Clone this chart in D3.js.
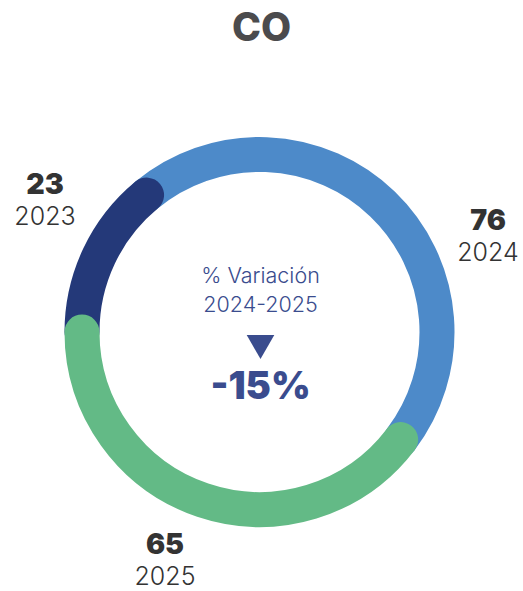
<!DOCTYPE html>
<html>
<head>
<meta charset="utf-8">
<script src="https://cdn.jsdelivr.net/npm/d3@7"></script>
<style>
  html, body { margin: 0; padding: 0; background: #fff; }
  svg { display: block; }
</style>
</head>
<body>
<svg id="chart" width="523" height="591"></svg>
<script>
// Data
const title = "CO";
const years = ["2023", "2024", "2025"];
const values = [23, 76, 65];
const colors = ["#243979", "#4d8ac9", "#63ba86"];
const variationLabel = ["% Variación", "2024-2025"];
const variationText = "-15%";

// Layout
const width = 523, height = 591;
const cx = 259.5, cy = 332;
const ringRadius = 177.5;   // centreline of the ring
const ringWidth = 35;
// Draw order: blue under navy, green on top
const drawOrder = [1, 0, 2];
// Label anchors (value / year) per segment
const labelPos = [
  { x: 45, y: 194 },
  { x: 488, y: 230 },
  { x: 165, y: 554 }
];
const font = "Inter, 'Open Sans', sans-serif";

const svg = d3.select("#chart");

svg.append("text")
  .attr("x", width / 2)
  .attr("y", 41)
  .attr("text-anchor", "middle")
  .attr("font-family", font)
  .attr("font-weight", 800)
  .attr("font-size", 39)
  .attr("fill", "#4b4b4d")
  .text(title);

const pie = d3.pie()
  .sort(null)
  .startAngle(-Math.PI / 2)
  .endAngle(3 * Math.PI / 2)
  .value(d => d);

const arcs = pie(values);

const g = svg.append("g");

drawOrder.forEach(i => {
  const a = arcs[i];
  const p = d3.path();
  // d3 pie angles are clockwise from 12 o'clock; path.arc uses 3 o'clock origin
  p.arc(cx, cy, ringRadius, a.startAngle - Math.PI / 2, a.endAngle - Math.PI / 2, false);
  g.append("path")
    .attr("d", p.toString())
    .attr("fill", "none")
    .attr("stroke", colors[i])
    .attr("stroke-width", ringWidth)
    .attr("stroke-linecap", "round");
});

// Value and year labels
const labels = svg.append("g");
arcs.forEach((a, i) => {
  labels.append("text")
    .attr("x", labelPos[i].x)
    .attr("y", labelPos[i].y)
    .attr("text-anchor", "middle")
    .attr("font-family", font)
    .attr("font-weight", 900)
    .attr("font-size", 28.5)
    .attr("fill", "#333333")
    .text(values[i]);
  labels.append("text")
    .attr("x", labelPos[i].x)
    .attr("y", labelPos[i].y + 31)
    .attr("text-anchor", "middle")
    .attr("font-family", font)
    .attr("font-weight", 300)
    .attr("font-size", 25)
    .attr("fill", "#333333")
    .text(years[i]);
});

// Centre: variation
const centre = svg.append("g").attr("fill", "#3a4c8e");
centre.selectAll("text.var")
  .data(variationLabel)
  .join("text")
  .attr("class", "var")
  .attr("x", width / 2 - 1)
  .attr("y", (d, i) => 283 + i * 29)
  .attr("text-anchor", "middle")
  .attr("font-family", font)
  .attr("font-weight", 300)
  .attr("font-size", 21.5)
  .text(d => d);

centre.append("path")
  .attr("d", d3.symbol(d3.symbolTriangle, 330)())
  .attr("transform", `translate(${width / 2 - 1},${343}) rotate(180)`);

centre.append("text")
  .attr("x", width / 2 - 1)
  .attr("y", 399)
  .attr("text-anchor", "middle")
  .attr("font-family", font)
  .attr("font-weight", 900)
  .attr("font-size", 38)
  .text(variationText);
</script>
</body>
</html>
